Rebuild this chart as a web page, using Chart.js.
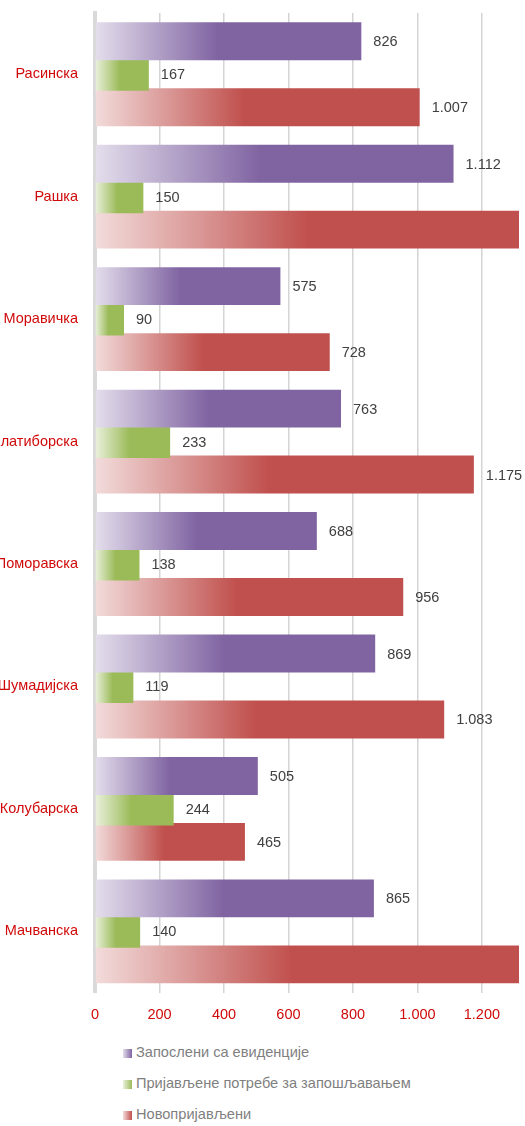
<!DOCTYPE html>
<html>
<head>
<meta charset="utf-8">
<script src="https://cdn.jsdelivr.net/npm/chart.js@4"></script>
<style>
	body { margin: 0; background: #fff; overflow: hidden; font-family: "Liberation Sans", Arial, sans-serif; }
	#wrap { position: relative; width: 525px; height: 1037px; }
	#legend { padding: 0 0 0 123px; }
	#legend div { height: 31px; line-height: 31px; font-size: 14.6px; color: #7f7f7f; }
	#legend span { display: inline-block; width: 9px; height: 9px; margin-right: 4px; vertical-align: -1px; }
</style>
</head>
<body>
<div id="wrap"><canvas id="barChart"></canvas></div>
<div id="legend"></div>
<script>
var okruzi = ["Расинска", "Рашка", "Моравичка", "Златиборска", "Поморавска", "Шумадијска", "Колубарска", "Мачванска"];
var zaposleni = [826, 1112, 575, 763, 688, 869, 505, 865];
var potrebe = [167, 150, 90, 233, 138, 119, 244, 140];
var novoprijavljeni = [1007, 1437, 728, 1175, 956, 1083, 465, 1330];
var xTicks = [0, 200, 400, 600, 800, 1000, 1200];

var color = {
	purple: "#8064A2",
	purpleLight: "#e4deec",
	green: "#9BBB59",
	greenLight: "#ebf1de",
	red: "#C0504D",
	redLight: "#f2dcdb",
	label: "#d00a0a",
	grid: "#d4d4d4"
};

var xMax = 1315;
var fontFamily = "'Liberation Sans', Arial, sans-serif";

function fmt(n) {
	return String(n).replace(/\B(?=(\d{3})+(?!\d))/g, ".");
}

// gradient runs from the axis to the end of each bar
function barFill(light, solid) {
	return function (ctx) {
		var chart = ctx.chart;
		if (!chart.chartArea || ctx.type !== "data") return solid;
		var x = chart.scales.x;
		var x0 = x.getPixelForValue(0);
		var x1 = x.getPixelForValue(ctx.raw);
		var g = chart.ctx.createLinearGradient(x0, 0, x1, 0);
		g.addColorStop(0, light);
		g.addColorStop(0.46, solid);
		g.addColorStop(1, solid);
		return g;
	};
}

var valueLabels = {
	id: "valueLabels",
	afterDatasetsDraw: function (chart) {
		var ctx = chart.ctx;
		ctx.save();
		ctx.font = "14.5px " + fontFamily;
		ctx.fillStyle = "#404040";
		ctx.textAlign = "left";
		ctx.textBaseline = "middle";
		chart.data.datasets.forEach(function (ds, i) {
			chart.getDatasetMeta(i).data.forEach(function (el, j) {
				if (ds.data[j] > xMax) return;
				ctx.fillText(fmt(ds.data[j]), el.x + 12, el.y + 1);
			});
		});
		ctx.restore();
	}
};

var series = [
	{ label: "Запослени са евиденције", data: zaposleni, light: color.purpleLight, solid: color.purple, bp: 1.15 },
	{ label: "Пријављене потребе за запошљавањем", data: potrebe, light: color.greenLight, solid: color.green, bp: 1.0 },
	{ label: "Новопријављени", data: novoprijavljeni, light: color.redLight, solid: color.red, bp: 1.15 }
];

new Chart(document.getElementById("barChart"), {
	type: "bar",
	data: {
		labels: okruzi,
		datasets: series.map(function (s) {
			return {
				label: s.label,
				data: s.data,
				backgroundColor: barFill(s.light, s.solid),
				barPercentage: s.bp,
				categoryPercentage: 0.8075,
				clip: 0
			};
		})
	},
	options: {
		indexAxis: "y",
		maintainAspectRatio: false,
		responsive: true,
		animation: false,
		layout: { padding: { top: 13, right: 6, bottom: 0, left: 0 } },
		plugins: { legend: { display: false }, tooltip: { enabled: false } },
		scales: {
			x: {
				min: 0,
				max: xMax,
				afterBuildTicks: function (scale) {
					scale.ticks = xTicks.map(function (v) { return { value: v }; });
				},
				grid: { color: color.grid, lineWidth: 1.5, drawTicks: false },
				border: { display: false },
				ticks: {
					padding: 13.5,
					color: color.label,
					font: { family: fontFamily, size: 14.5 },
					callback: function (v) { return fmt(v); }
				}
			},
			y: {
				afterFit: function (scale) {
					scale.width = 95;
					scale.paddingTop = 0;
					scale.paddingBottom = 0;
				},
				grid: { display: false, drawTicks: false },
				border: { display: true, color: "#d9d9d9", width: 4 },
				ticks: {
					padding: 17,
					color: color.label,
					font: { family: fontFamily, size: 14.5 }
				}
			}
		}
	},
	plugins: [valueLabels]
});

var legend = document.getElementById("legend");
series.forEach(function (s) {
	var row = document.createElement("div");
	var box = document.createElement("span");
	box.style.background = "linear-gradient(to right, " + s.light + ", " + s.solid + ")";
	row.appendChild(box);
	row.appendChild(document.createTextNode(s.label));
	legend.appendChild(row);
});
</script>
</body>
</html>
